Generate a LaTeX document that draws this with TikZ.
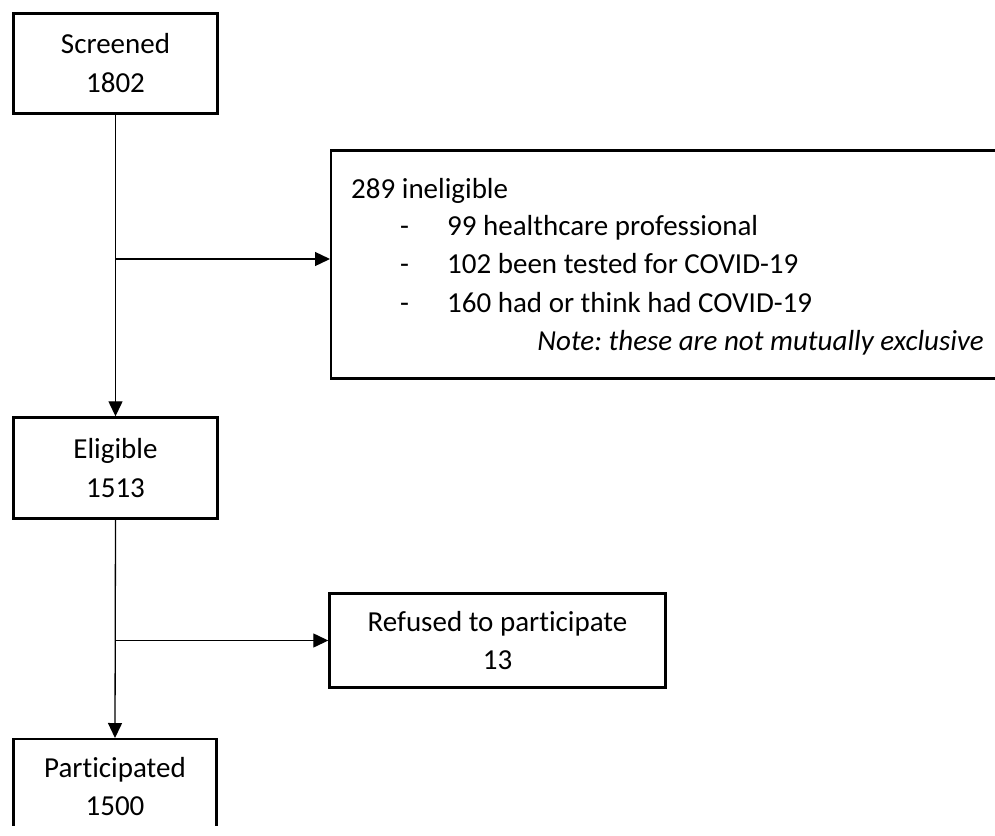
\documentclass[tikz,border=0pt]{standalone}
\usepackage{fontspec}
\setmainfont{Carlito}[Ligatures=NoCommon]
\usetikzlibrary{arrows.meta}
\frenchspacing
\begin{document}
\begin{tikzpicture}[x=1pt,y=-1pt,
  box/.style={draw,line width=2.4pt,rectangle,inner sep=0pt},
  conn/.style={line width=1.3pt},
  arr/.style={conn,-{Triangle[length=15pt,width=14pt]}},
  txt/.style={inner sep=0pt,font=\fontsize{29}{36}\selectfont}]
\useasboundingbox (0,0) rectangle (995,835);
\begin{scope}
\clip (-5,-5) rectangle (995,825);
% boxes
\node[box,minimum width=204pt,minimum height=100pt] (scr) at (115.5,63.5) {};
\node[box,minimum width=204pt,minimum height=101pt] (eli) at (115.5,468) {};
\node[box,minimum width=203pt,minimum height=120pt,anchor=north] (par) at (115,738) {};
\node[box,minimum width=336pt,minimum height=94pt] (ref) at (497.5,640.5) {};
\node[box,minimum width=700pt,minimum height=228pt,anchor=west] (inel) at (330,264.5) {};
\end{scope}
% texts
\node[txt,anchor=base] (t1) at (115.5,53) {Screened};
\node[txt,anchor=base] (t2) at (115.5,92) {1802};
\node[txt,anchor=base] (t3) at (115.5,458) {Eligible};
\node[txt,anchor=base] (t4) at (115.5,497) {1513};
\node[txt,anchor=base] (t5) at (115,777) {Participated};
\node[txt,anchor=base] (t6) at (115,815) {1500};
\node[txt,anchor=base] (t7) at (497.5,631) {Refused to participate};
\node[txt,anchor=base] (t8) at (497.5,669) {13};
\node[txt,anchor=base west] (i0) at (351,198) {289 ineligible};
\node[txt,anchor=base west] (d1) at (400,235) {-};
\node[txt,anchor=base west] (d2) at (400,273) {-};
\node[txt,anchor=base west] (d3) at (400,312) {-};
\node[txt,anchor=base west] (i1) at (447,235) {99 healthcare professional};
\node[txt,anchor=base west] (i2) at (447,273) {102 been tested for COVID-19};
\node[txt,anchor=base west] (i3) at (447,312) {160 had or think had COVID-19};
\node[txt,anchor=base east] (nt) at (984,350) {\itshape Note: these are not mutually exclusive};
% connectors
\coordinate (b1) at (scr.south |- 0,259);
\coordinate (b2) at (eli.south |- ref.west);
\draw[arr] (scr.south) -- (eli.north);
\draw[arr] (b1) -- (b1 -| inel.west);
\draw[arr] (eli.south) -- (par.north);
\draw[arr] (b2) -- (ref.west);
\end{tikzpicture}
\end{document}
